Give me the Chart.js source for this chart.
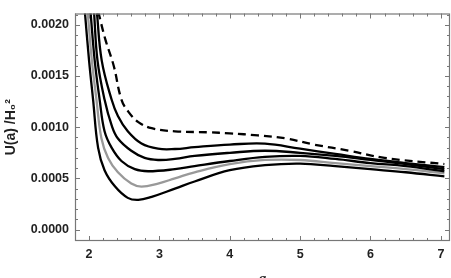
<!DOCTYPE html>
<html>
<head>
<meta charset="utf-8">
<script src="https://cdn.jsdelivr.net/npm/chart.js@4/dist/chart.umd.min.js"></script>
<style>
  html, body { margin: 0; padding: 0; background: #fff; }
  #wrap { width: 451px; height: 278px; }
</style>
</head>
<body>
<div id="wrap"><canvas id="potChart"></canvas></div>
<script>
// tick labels
const xTicks = [2, 3, 4, 5, 6, 7];
const yTicks = [0, 0.0005, 0.001, 0.0015, 0.002];

// dashed curve (top)
const dashA = [2.13, 2.23, 2.35, 2.46, 2.56, 2.7, 2.89, 3.22, 3.7, 4.0, 4.4, 4.8, 5.2, 5.7, 6.2, 7.05];
const dashU = [0.00213, 0.00186, 0.0016, 0.00127, 0.00115, 0.00105, 0.00099, 0.00096, 0.00095, 0.00094, 0.00092, 0.00089, 0.00083, 0.00077, 0.0007, 0.00064];

// solid curves, top to bottom
const c1A = [2.11, 2.18, 2.32, 2.41, 2.55, 2.745, 2.98, 3.22, 3.5, 4.0, 4.5, 5.0, 5.5, 6.0, 6.5, 7.05];
const c1U = [0.00213, 0.00165, 0.00127, 0.00111, 0.00096, 0.00084, 0.00079, 0.000787, 0.000805, 0.00083, 0.00084, 0.00079, 0.00074, 0.00069, 0.00065, 0.00061];

const c2A = [2.07, 2.12, 2.22, 2.32, 2.41, 2.6, 2.79, 2.98, 3.22, 3.5, 4.0, 4.5, 5.0, 5.5, 6.0, 6.5, 7.05];
const c2U = [0.00213, 0.00165, 0.00127, 0.00102, 0.00089, 0.00077, 0.0007, 0.00068, 0.00069, 0.00072, 0.00075, 0.00077, 0.00075, 0.00072, 0.00068, 0.00064, 0.00059];

const c3A = [2.02, 2.08, 2.15, 2.22, 2.32, 2.46, 2.65, 2.84, 3.22, 3.5, 4.0, 4.5, 5.0, 5.5, 6.0, 6.5, 7.05];
const c3U = [0.00213, 0.00165, 0.00127, 0.00096, 0.0008, 0.00067, 0.00059, 0.00057, 0.00059, 0.00062, 0.00067, 0.00071, 0.00072, 0.00069, 0.00065, 0.00062, 0.00057];

// grey curve
const c4A = [1.98, 2.04, 2.105, 2.176, 2.27, 2.41, 2.6, 2.745, 2.98, 3.22, 3.5, 4.0, 4.5, 5.0, 5.5, 6.0, 6.5, 7.05];
const c4U = [0.00213, 0.00165, 0.00127, 0.00089, 0.0007, 0.00056, 0.00045, 0.00042, 0.00045, 0.0005, 0.00056, 0.00064, 0.00068, 0.00068, 0.00065, 0.00062, 0.00059, 0.00055];

const c5A = [1.94, 2.0, 2.057, 2.128, 2.22, 2.37, 2.55, 2.7, 2.89, 3.22, 3.5, 4.0, 4.5, 5.0, 5.5, 6.0, 6.5, 7.05];
const c5U = [0.00213, 0.00165, 0.00127, 0.0008, 0.00058, 0.00042, 0.00031, 0.00029, 0.00032, 0.0004, 0.00047, 0.00058, 0.00063, 0.000645, 0.00062, 0.00059, 0.00056, 0.00052];

function pts(a, u) { return a.map((v, i) => ({ x: v, y: u[i] })); }

function line(a, u, color, dash) {
  return {
    data: pts(a, u),
    borderColor: color,
    borderWidth: 2.3,
    borderDash: dash || [],
    pointRadius: 0,
    fill: false,
    tension: 0.4
  };
}

// inward ticks on all four sides plus frame
const frameTicks = {
  id: 'frameTicks',
  afterDatasetsDraw(chart) {
    const { ctx, chartArea: ca, scales } = chart;
    const xs = scales.x, ys = scales.y;
    ctx.save();
    ctx.strokeStyle = '#777';
    ctx.lineWidth = 1;
    ctx.beginPath();
    for (let k = 9; k <= 35; k++) {
      const vv = k / 5;
      const px = Math.round(xs.getPixelForValue(vv)) + 0.5;
      const len = k % 5 === 0 ? 5 : 3;
      ctx.moveTo(px, ca.bottom); ctx.lineTo(px, ca.bottom - len);
      ctx.moveTo(px, ca.top); ctx.lineTo(px, ca.top + len);
    }
    for (let k = -1; k <= 21; k++) {
      const vv = k * 0.0001;
      const py = Math.round(ys.getPixelForValue(vv)) + 0.5;
      if (py < ca.top || py > ca.bottom) continue;
      const len = k % 5 === 0 ? 5 : 3;
      ctx.moveTo(ca.left, py); ctx.lineTo(ca.left + len, py);
      ctx.moveTo(ca.right, py); ctx.lineTo(ca.right - len, py);
    }
    ctx.stroke();
    ctx.lineWidth = 1.2;
    ctx.strokeRect(ca.left + 0.5, ca.top + 0.5, ca.right - ca.left - 1, ca.bottom - ca.top - 1);
    ctx.restore();
  }
};

const tickFont = { family: 'Liberation Sans', size: 12.5, weight: 'bold' };

new Chart(document.getElementById('potChart').getContext('2d'), {
  type: 'line',
  data: {
    datasets: [
      line(dashA, dashU, '#000', [8, 5]),
      line(c1A, c1U, '#000'),
      line(c2A, c2U, '#000'),
      line(c3A, c3U, '#000'),
      line(c4A, c4U, '#999'),
      line(c5A, c5U, '#000')
    ]
  },
  options: {
    responsive: true,
    maintainAspectRatio: false,
    animation: false,
    layout: { padding: { top: 7, right: 1, left: 0, bottom: 0 } },
    plugins: { legend: { display: false }, tooltip: { enabled: false } },
    scales: {
      x: {
        type: 'linear',
        min: 1.8,
        max: 7.13,
        afterBuildTicks: s => { s.ticks = xTicks.map(v => ({ value: v })); },
        afterFit: s => { s.height = 37; },
        grid: { display: false, drawTicks: false },
        border: { display: false },
        ticks: { font: tickFont, color: '#222', padding: 6, maxRotation: 0 },
        title: {
          display: true, text: 'a', color: '#222',
          font: { family: 'Liberation Serif', size: 15, style: 'italic', weight: 'bold' },
          padding: { top: 0, bottom: -10 }
        }
      },
      y: {
        type: 'linear',
        min: -0.000111,
        max: 0.00211,
        afterBuildTicks: s => { s.ticks = yTicks.map(v => ({ value: v })); },
        afterFit: s => { s.width = 75; },
        grid: { display: false, drawTicks: false },
        border: { display: false },
        ticks: { font: tickFont, color: '#222', padding: 6, callback: v => v.toFixed(4) },
        title: {
          display: true, text: 'U(a) /H₀²', color: '#222',
          font: { family: 'Liberation Sans', size: 14, weight: 'bold' },
          padding: { top: 3, bottom: 0 }
        }
      }
    }
  },
  plugins: [frameTicks]
});
</script>
</body>
</html>
